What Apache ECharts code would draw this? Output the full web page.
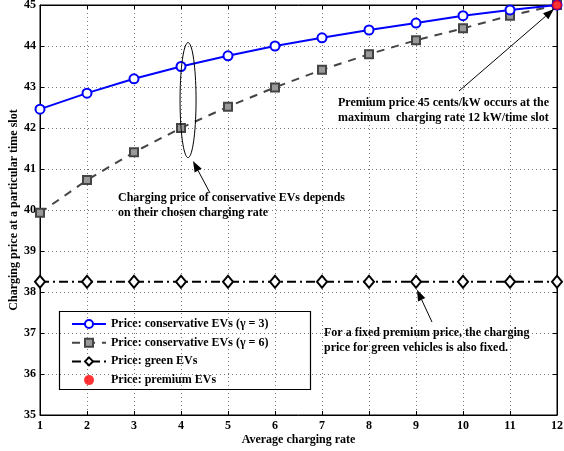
<!DOCTYPE html>
<html>
<head>
<meta charset="utf-8">
<script src="https://cdn.jsdelivr.net/npm/echarts@6/dist/echarts.min.js"></script>
<style>
  html, body { margin: 0; padding: 0; background: #fff; }
  #chart { width: 564px; height: 451px; }
</style>
</head>
<body>
<div id="chart"></div>
<script>
// Average charging rate (kW / time slot)
const chargingRates = [1, 2, 3, 4, 5, 6, 7, 8, 9, 10, 11, 12];
// Charging price for conservative EVs, gamma = 3
const priceConservative3 = [42.46, 42.85, 43.2, 43.5, 43.76, 44.0, 44.2, 44.39, 44.56, 44.74, 44.88, 45.0];
// Charging price for conservative EVs, gamma = 6
const priceConservative6 = [39.93, 40.73, 41.41, 42.0, 42.52, 42.99, 43.42, 43.8, 44.14, 44.43, 44.74, 45.0];
// Charging price for green EVs (fixed)
const priceGreen = [38.25, 38.25, 38.25, 38.25, 38.25, 38.25, 38.25, 38.25, 38.25, 38.25, 38.25, 38.25];
// Premium EVs: price at the maximum charging rate
const premiumRate = [12];
const premiumPrice = [45];

const seriesNames = [
  'Price: conservative EVs (\u03b3 = 3)',
  'Price: conservative EVs (\u03b3 = 6)',
  'Price: green EVs',
  'Price: premium EVs'
];

const FONT = '"Liberation Serif", "Times New Roman", serif';
const pair = (xs, ys) => xs.map((x, i) => [x, ys[i]]);

const chart = echarts.init(document.getElementById('chart'), null, { renderer: 'canvas' });

const gridLine = { show: true, lineStyle: { color: '#777', width: 1, type: [1, 3] } };
const tickInside = { show: true, inside: true, length: 4, lineStyle: { color: '#000' } };

chart.setOption({
  animation: false,
  backgroundColor: '#fff',
  grid: {
    left: 40, right: 7, top: 5, bottom: 36,
    outerBoundsMode: 'none', containLabel: false,
    show: true, borderColor: '#000', borderWidth: 1
  },
  xAxis: [{
    type: 'value', min: 1, max: 12, interval: 1,
    name: 'Average charging rate', nameLocation: 'middle', nameGap: 19,
    nameMoveOverlap: false,
    nameTextStyle: { fontFamily: FONT, fontWeight: 'bold', fontSize: 12, color: '#000' },
    axisLine: { show: true, lineStyle: { color: '#000', width: 1 } },
    axisTick: tickInside,
    axisLabel: { fontFamily: FONT, fontWeight: 'bold', fontSize: 12, color: '#000', margin: 5 },
    splitLine: gridLine
  }, {
    type: 'value', min: 1, max: 12, interval: 1, position: 'top',
    axisLine: { show: true, lineStyle: { color: '#000' } },
    axisTick: tickInside, axisLabel: { show: false }, splitLine: { show: false }
  }],
  yAxis: [{
    type: 'value', min: 35, max: 45, interval: 1,
    name: 'Charging price at a particular time slot', nameLocation: 'middle', nameGap: 20,
    nameMoveOverlap: false,
    nameTextStyle: { fontFamily: FONT, fontWeight: 'bold', fontSize: 12, color: '#000' },
    axisLine: { show: true, lineStyle: { color: '#000', width: 1 } },
    axisTick: tickInside,
    axisLabel: { fontFamily: FONT, fontWeight: 'bold', fontSize: 12, color: '#000', margin: 4 },
    splitLine: gridLine
  }, {
    type: 'value', min: 35, max: 45, interval: 1, position: 'right',
    axisLine: { show: true, lineStyle: { color: '#000' } },
    axisTick: tickInside, axisLabel: { show: false }, splitLine: { show: false }
  }],
  legend: {
    orient: 'vertical', left: 66, top: 313,
    itemWidth: 34, itemHeight: 10, itemGap: 6.7,
    data: seriesNames,
    textStyle: { fontFamily: FONT, fontWeight: 'bold', fontSize: 12, color: '#000' }
  },
  series: [{
    name: seriesNames[0], type: 'line', data: pair(chargingRates, priceConservative3),
    lineStyle: { color: '#0000ff', width: 2 },
    itemStyle: { color: '#fff', borderColor: '#0000ff', borderWidth: 2 },
    symbol: 'circle', symbolSize: 9, z: 4
  }, {
    name: seriesNames[1], type: 'line', data: pair(chargingRates, priceConservative6),
    lineStyle: { color: '#444', width: 2, type: [8, 7] },
    itemStyle: { color: '#999', borderColor: '#444', borderWidth: 2 },
    symbol: 'rect', symbolSize: 8, z: 3
  }, {
    name: seriesNames[2], type: 'line', data: pair(chargingRates, priceGreen),
    lineStyle: { color: '#000', width: 2, type: [9, 4, 2, 4] },
    itemStyle: { color: '#fff', borderColor: '#000', borderWidth: 2 },
    symbol: 'diamond', symbolSize: [10, 12], z: 3
  }, {
    name: seriesNames[3], type: 'scatter', data: pair(premiumRate, premiumPrice),
    itemStyle: { color: '#ff0000' }, symbol: 'circle', symbolSize: 10, z: 5
  }]
});

// Arrow: line from (x1,y1) to tip (x2,y2) with a filled head
function arrow(x1, y1, x2, y2) {
  const a = Math.atan2(y2 - y1, x2 - x1);
  const len = 11, half = 4;
  const bx = x2 - len * Math.cos(a), by = y2 - len * Math.sin(a);
  const nx = -Math.sin(a) * half, ny = Math.cos(a) * half;
  return [{
    type: 'line', z: 20,
    shape: { x1: x1, y1: y1, x2: bx, y2: by },
    style: { stroke: '#000', lineWidth: 1 }
  }, {
    type: 'polygon', z: 20,
    shape: { points: [[x2, y2], [bx + nx, by + ny], [bx - nx, by - ny]] },
    style: { fill: '#000' }
  }];
}

function label(x, y, text) {
  return {
    type: 'text', z: 20, x: x, y: y,
    style: { text: text, fontFamily: FONT, fontWeight: 'bold', fontSize: 12, fill: '#000', lineHeight: 14.5, textVerticalAlign: 'top' }
  };
}

const px = (x, y) => chart.convertToPixel({ xAxisIndex: 0, yAxisIndex: 0 }, [x, y]);

// Ellipse around the conservative curves at rate 4
const c = px(4.15, 42.68);
const ellipsePts = [];
for (let i = 0; i < 72; i++) {
  const t = i / 72 * Math.PI * 2;
  ellipsePts.push([c[0] + 8 * Math.cos(t), c[1] + 57.5 * Math.sin(t)]);
}

const pTip = px(12, 45);
const gTip = px(9, 38.25);

const graphics = [
  { type: 'rect', z: 10, shape: { x: 59.5, y: 311.5, width: 251, height: 78 },
    style: { fill: 'rgba(0,0,0,0)', stroke: '#000', lineWidth: 1.2 } },
  { type: 'polygon', z: 20, shape: { points: ellipsePts }, style: { fill: 'none', stroke: '#000', lineWidth: 1 } },
  label(118, 191, 'Charging price of conservative EVs depends\non their chosen charging rate'),
  label(338, 96, 'Premium price 45 cents/kW occurs at the\nmaximum  charging rate 12 kW/time slot'),
  label(324, 326, 'For a fixed premium price, the charging\nprice for green vehicles is also fixed.')
]
  .concat(arrow(210, 193, 193, 161))
  .concat(arrow(459, 91, pTip[0] - 3, pTip[1] + 4))
  .concat(arrow(432, 322, gTip[0] + 1, gTip[1] + 8));

chart.setOption({ graphic: graphics });
</script>
</body>
</html>
